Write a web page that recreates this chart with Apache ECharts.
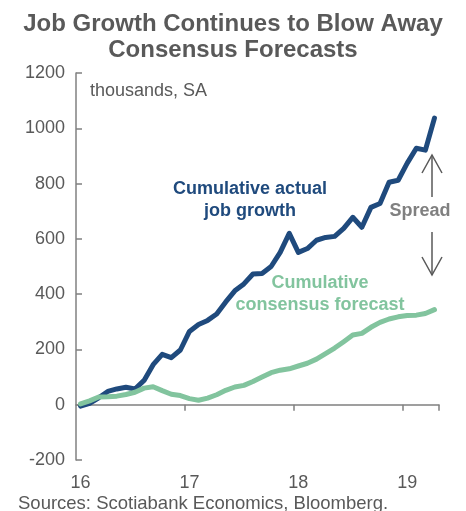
<!DOCTYPE html>
<html>
<head>
<meta charset="utf-8">
<script src="https://cdn.jsdelivr.net/npm/echarts@6/dist/echarts.min.js"></script>
<style>
  html, body { margin: 0; padding: 0; background: #ffffff; }
  #chart { width: 466px; height: 511px; }
</style>
</head>
<body>
<div id="chart"></div>
<script>
// Monthly categories, Jan 2016 to Apr 2019
const months = [
  'Jan-16','Feb-16','Mar-16','Apr-16','May-16','Jun-16','Jul-16','Aug-16','Sep-16','Oct-16','Nov-16','Dec-16',
  'Jan-17','Feb-17','Mar-17','Apr-17','May-17','Jun-17','Jul-17','Aug-17','Sep-17','Oct-17','Nov-17','Dec-17',
  'Jan-18','Feb-18','Mar-18','Apr-18','May-18','Jun-18','Jul-18','Aug-18','Sep-18','Oct-18','Nov-18','Dec-18',
  'Jan-19','Feb-19','Mar-19','Apr-19'
];

// Cumulative actual job growth, thousands, SA
const actualGrowth = [
  -5, 5, 25, 48, 57, 63, 57, 88, 145, 182, 170, 198,
  265, 290, 305, 328, 372, 412, 437, 473, 475, 500, 551, 620,
  551, 565, 595, 605, 609, 638, 678, 642, 714, 728, 805, 812,
  874, 928, 921, 1037
];

// Cumulative consensus forecast, thousands, SA
const consensusForecast = [
  3, 14, 28, 29, 31, 37, 45, 60, 65, 51, 38, 33,
  22, 16, 24, 36, 52, 64, 70, 84, 100, 116, 125, 130,
  140, 150, 165, 185, 205, 228, 252, 258, 280, 298, 310, 318,
  323, 324, 330, 344
];

// Year tick labels, one per January
const yearLabels = ['16', '17', '18', '19'];

const GREY = '#595959';
const AXIS_GREY = '#808080';
const BLUE = '#1F4A7D';
const GREEN = '#82C49E';
const FONT = 'Liberation Sans, Arial, sans-serif';

const chart = echarts.init(document.getElementById('chart'), null, { renderer: 'canvas' });

const isJanuary = (i) => i % 12 === 0;

chart.setOption({
  animation: false,
  backgroundColor: '#ffffff',
  title: {
    text: 'Job Growth Continues to Blow Away\nConsensus Forecasts',
    left: 'center',
    top: 6,
    textStyle: {
      color: GREY,
      fontFamily: FONT,
      fontWeight: 'bold',
      fontSize: 24,
      lineHeight: 26
    }
  },
  grid: { left: 76, right: 27, top: 73, bottom: 51, containLabel: false },
  xAxis: [
    {
      // year labels along the bottom of the plot
      type: 'category',
      data: months,
      boundaryGap: true,
      position: 'bottom',
      axisLine: { show: false, onZero: false },
      axisTick: { show: false },
      splitLine: { show: false },
      axisLabel: {
        interval: (i) => isJanuary(i),
        formatter: (v, i) => yearLabels[Math.floor(i / 12)],
        color: GREY,
        fontFamily: FONT,
        fontSize: 18,
        margin: 14
      }
    },
    {
      // baseline drawn at zero with year boundary ticks
      type: 'category',
      data: months,
      boundaryGap: true,
      position: 'top',
      axisLine: { show: true, onZero: true, lineStyle: { color: AXIS_GREY, width: 1.5 } },
      axisTick: {
        show: true,
        inside: true,
        length: 6,
        interval: (i) => isJanuary(i) && i > 0,
        lineStyle: { color: AXIS_GREY, width: 1.5 }
      },
      axisLabel: { show: false },
      splitLine: { show: false }
    }
  ],
  yAxis: {
    type: 'value',
    min: -200,
    max: 1200,
    interval: 200,
    axisLine: { show: true, lineStyle: { color: AXIS_GREY, width: 1.5 } },
    axisTick: { show: true, inside: true, length: 6, lineStyle: { color: AXIS_GREY, width: 1.5 } },
    splitLine: { show: false },
    axisLabel: {
      formatter: (v) => String(v),
      color: GREY,
      fontFamily: FONT,
      fontSize: 18,
      margin: 11
    }
  },
  series: [
    {
      name: 'Cumulative actual job growth',
      type: 'line',
      xAxisIndex: 0,
      data: actualGrowth,
      showSymbol: false,
      symbol: 'none',
      lineStyle: { color: BLUE, width: 5, cap: 'round', join: 'round' },
      z: 3
    },
    {
      name: 'Cumulative consensus forecast',
      type: 'line',
      xAxisIndex: 0,
      data: consensusForecast,
      showSymbol: false,
      symbol: 'none',
      lineStyle: { color: GREEN, width: 5, cap: 'round', join: 'round' },
      z: 4
    }
  ],
  graphic: [
    {
      type: 'text', left: 90, top: 82,
      style: { text: 'thousands, SA', fill: GREY, font: '18px ' + FONT }
    },
    {
      type: 'text', x: 250, y: 178,
      style: {
        text: 'Cumulative actual\njob growth', fill: BLUE, align: 'center',
        font: 'bold 18px ' + FONT, lineHeight: 22
      }
    },
    {
      type: 'text', x: 320, y: 272,
      style: {
        text: 'Cumulative\nconsensus forecast', fill: GREEN, align: 'center',
        font: 'bold 18px ' + FONT, lineHeight: 22
      }
    },
    {
      type: 'text', x: 420, y: 202,
      style: { text: 'Spread', fill: AXIS_GREY, align: 'center', font: 'bold 18px ' + FONT }
    },
    // upward arrow
    { type: 'line', shape: { x1: 432, y1: 197, x2: 432, y2: 155 }, style: { stroke: GREY, lineWidth: 1.5 } },
    { type: 'polyline', shape: { points: [[422, 173], [432, 155], [442, 173]] }, style: { stroke: GREY, fill: null, lineWidth: 1.5 } },
    // downward arrow
    { type: 'line', shape: { x1: 432, y1: 232, x2: 432, y2: 275 }, style: { stroke: GREY, lineWidth: 1.5 } },
    { type: 'polyline', shape: { points: [[422, 257], [432, 275], [442, 257]] }, style: { stroke: GREY, fill: null, lineWidth: 1.5 } },
    {
      type: 'text', left: 18, top: 494,
      style: { text: 'Sources: Scotiabank Economics, Bloomberg.', fill: GREY, font: '18.5px ' + FONT }
    }
  ]
});
</script>
</body>
</html>
